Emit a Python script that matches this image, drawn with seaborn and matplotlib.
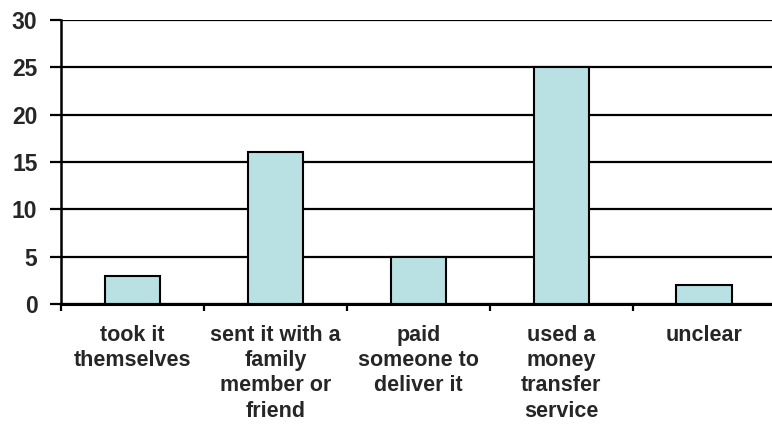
import numpy as np
import pandas as pd
import seaborn as sns
import matplotlib.pyplot as plt

categories = ["took it\nthemselves", "sent it with a\nfamily\nmember or\nfriend",
              "paid\nsomeone to\ndeliver it", "used a\nmoney\ntransfer\nservice", "unclear"]
counts = [3, 16, 5, 25, 2]
yticks = [0, 5, 10, 15, 20, 25, 30]

df = pd.DataFrame({"how": categories, "count": counts})

sns.set_style("white")
plt.rcParams["font.family"] = ["Liberation Sans", "DejaVu Sans"]
plt.rcParams["font.weight"] = "bold"

fig = plt.figure(figsize=(7.72, 4.26), dpi=100)
ax = fig.add_axes([0.079, 0.2864, 0.926, 0.667])

sns.barplot(data=df, x="how", y="count", ax=ax, color="#B9E0E3",
            edgecolor="black", linewidth=1.5, width=0.39, saturation=1)

ax.set_ylim(0, 30)
ax.set_xlim(-0.5, 4.5)
ax.set_yticks(yticks)
ax.set_yticklabels([str(v) for v in yticks], fontsize=16.5, fontweight="bold")
ax.yaxis.grid(True, color="black", linewidth=1.6)
ax.set_axisbelow(True)

# category boundaries get the tick marks, labels sit in between
ax.set_xticks(np.arange(-0.5, 5, 1))
ax.set_xticklabels([])
ax.set_xticks(np.arange(5), minor=True)
ax.set_xticklabels(categories, minor=True, fontsize=15.5, fontweight="bold",
                   linespacing=1.27, va="top")
ax.tick_params(axis="x", which="major", direction="out", length=5, width=1.6, color="black", bottom=True)
ax.tick_params(axis="x", which="minor", length=0, pad=15)
ax.tick_params(axis="y", direction="out", length=8, width=1.6, color="black", left=True, pad=9)

ax.set_xlabel("")
ax.set_ylabel("")
for side in ["top", "right"]:
    ax.spines[side].set_visible(False)
ax.spines["left"].set_linewidth(1.8)
ax.spines["bottom"].set_linewidth(2.2)
ax.spines["left"].set_color("black")
ax.spines["bottom"].set_color("black")

fig.savefig("out.png", dpi=100)
